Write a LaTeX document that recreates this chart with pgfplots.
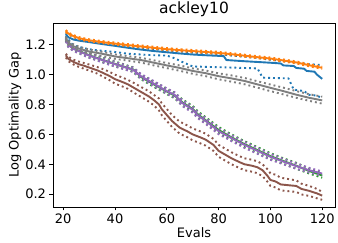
\documentclass[border=0pt]{standalone}
\usepackage{fontspec}
\setmainfont{DejaVu Sans}
\usepackage{pgfplots}
\pgfplotsset{compat=1.18}
\definecolor{tblue}{HTML}{1F77B4}
\definecolor{torange}{HTML}{FF7F0E}
\definecolor{tgreen}{HTML}{2CA02C}
\definecolor{tpurple}{HTML}{9467BD}
\definecolor{tbrown}{HTML}{8C564B}
\definecolor{tgray}{HTML}{7F7F7F}
\begin{document}
\begin{tikzpicture}
\begin{axis}[name=ax, scale only axis, width=282pt, height=184pt,
  xmin=16.05, xmax=124.95, ymin=0.114, ymax=1.346,
  xtick={20,40,...,120}, ytick={0.2,0.4,0.6,0.8,1.0,1.2},
  tick align=outside, tick pos=left, major tick length=3.5pt,
  tick style={black, line width=0.8pt},
  axis line style={line width=0.8pt},
  /pgf/number format/assume math mode=true,
  yticklabel style={/pgf/number format/fixed, /pgf/number format/precision=1, /pgf/number format/fixed zerofill},
  ticklabel style={font=\fontsize{13}{15}\selectfont},
  label style={font=\fontsize{13}{15}\selectfont},
  title style={font=\fontsize{15.5}{17}\selectfont, yshift=-3pt},
  title=ackley10, xlabel=Evals, ylabel=Log Optimality Gap,
  xlabel style={yshift=3pt}, ylabel style={yshift=-3pt},
  every axis plot/.append style={line width=1.9pt, line join=round},
  dot/.style={line width=1.9pt, dash pattern=on 1.9pt off 3pt, line cap=butt},
]
% blue
\addplot[tblue] coordinates {(21,1.272)(22,1.25)(24,1.235)(26,1.228)(30,1.218)(35,1.205)(40,1.193)(45,1.180)(50,1.168)(55,1.158)(60,1.150)(65,1.142)(70,1.135)(75,1.130)(80,1.126)(82,1.124)(83,1.098)(90,1.090)(95,1.085)(100,1.080)(104,1.075)(105,1.062)(109,1.058)(110,1.045)(113,1.040)(114,1.025)(117,1.020)(118,1.000)(120,0.972)};
\addplot[tblue,dot] coordinates {(21,1.28)(25,1.245)(30,1.228)(40,1.202)(50,1.180)(60,1.162)(70,1.148)(80,1.137)(85,1.128)(90,1.120)(95,1.112)(100,1.100)(105,1.090)(110,1.080)(115,1.070)(120,1.065)};
\addplot[tblue,dot] coordinates {(21,1.262)(23,1.21)(25,1.19)(30,1.17)(35,1.16)(40,1.152)(45,1.14)(50,1.135)(55,1.13)(60,1.128)(63,1.11)(66,1.085)(70,1.055)(80,1.05)(90,1.045)(95,1.042)(97,0.98)(107,0.975)(109,0.90)(113,0.89)(115,0.865)(118,0.86)(120,0.842)};
% orange
\addplot[torange] coordinates {(21,1.292)(22,1.275)(24,1.258)(26,1.245)(28,1.237)(30,1.230)(35,1.218)(40,1.208)(45,1.198)(50,1.189)(55,1.180)(60,1.171)(65,1.164)(70,1.158)(75,1.152)(80,1.146)(85,1.137)(90,1.127)(95,1.117)(100,1.108)(105,1.095)(110,1.082)(115,1.063)(120,1.046)};
\addplot[torange,dot] coordinates {(21,1.299)(22,1.282)(24,1.265)(26,1.252)(28,1.244)(30,1.237)(35,1.225)(40,1.215)(45,1.205)(50,1.196)(55,1.187)(60,1.178)(65,1.171)(70,1.165)(75,1.159)(80,1.153)(85,1.144)(90,1.134)(95,1.124)(100,1.115)(105,1.102)(110,1.089)(115,1.070)(120,1.053)};
\addplot[torange,dot] coordinates {(21,1.285)(22,1.268)(24,1.251)(26,1.238)(28,1.230)(30,1.223)(35,1.211)(40,1.201)(45,1.191)(50,1.182)(55,1.173)(60,1.164)(65,1.157)(70,1.151)(75,1.145)(80,1.139)(85,1.130)(90,1.120)(95,1.110)(100,1.101)(105,1.088)(110,1.075)(115,1.056)(120,1.039)};
% green
\addplot[tgreen] coordinates {(21,1.238)(22,1.2)(24,1.175)(26,1.16)(30,1.13)(35,1.10)(40,1.072)(45,1.045)(47,1.035)(50,0.985)(55,0.935)(60,0.887)(63,0.86)(66,0.815)(70,0.77)(72,0.735)(75,0.695)(80,0.63)(85,0.58)(90,0.535)(95,0.495)(100,0.455)(105,0.422)(110,0.39)(115,0.355)(120,0.325)};
\addplot[tgreen,dot] coordinates {(21,1.25)(22,1.215)(24,1.19)(26,1.175)(30,1.145)(35,1.115)(40,1.088)(45,1.06)(47,1.05)(50,1.0)(55,0.952)(60,0.905)(63,0.878)(66,0.835)(70,0.79)(72,0.755)(75,0.715)(80,0.65)(85,0.60)(90,0.555)(95,0.515)(100,0.475)(105,0.44)(110,0.41)(115,0.37)(120,0.34)};
\addplot[tgreen,dot] coordinates {(21,1.226)(22,1.185)(24,1.16)(26,1.145)(30,1.115)(35,1.085)(40,1.056)(45,1.03)(47,1.02)(50,0.97)(55,0.918)(60,0.87)(63,0.842)(66,0.795)(70,0.75)(72,0.715)(75,0.675)(80,0.61)(85,0.56)(90,0.515)(95,0.475)(100,0.435)(105,0.404)(110,0.37)(115,0.338)(120,0.31)};
% purple
\addplot[tpurple] coordinates {(21,1.235)(22,1.198)(24,1.172)(26,1.158)(30,1.128)(35,1.098)(40,1.07)(45,1.043)(47,1.033)(50,0.99)(55,0.94)(60,0.89)(63,0.865)(66,0.81)(70,0.765)(72,0.728)(75,0.69)(80,0.622)(85,0.575)(90,0.53)(95,0.49)(100,0.45)(105,0.418)(110,0.388)(115,0.36)(120,0.338)};
\addplot[tpurple,dot] coordinates {(21,1.247)(22,1.212)(24,1.187)(26,1.173)(30,1.143)(35,1.113)(40,1.086)(45,1.058)(47,1.048)(50,1.005)(55,0.957)(60,0.908)(63,0.883)(66,0.83)(70,0.785)(72,0.748)(75,0.71)(80,0.642)(85,0.595)(90,0.55)(95,0.51)(100,0.47)(105,0.436)(110,0.406)(115,0.376)(120,0.352)};
\addplot[tpurple,dot] coordinates {(21,1.223)(22,1.184)(24,1.157)(26,1.143)(30,1.113)(35,1.083)(40,1.054)(45,1.028)(47,1.018)(50,0.975)(55,0.923)(60,0.872)(63,0.847)(66,0.79)(70,0.745)(72,0.708)(75,0.67)(80,0.602)(85,0.555)(90,0.51)(95,0.47)(100,0.43)(105,0.40)(110,0.37)(115,0.344)(120,0.324)};
% brown
\addplot[tbrown] coordinates {(21,1.13)(22,1.105)(24,1.085)(26,1.07)(28,1.06)(30,1.048)(33,1.03)(35,1.015)(38,0.99)(40,0.97)(43,0.95)(45,0.935)(48,0.905)(50,0.885)(53,0.855)(55,0.83)(57,0.80)(58,0.77)(60,0.73)(62,0.69)(65,0.645)(68,0.62)(70,0.60)(73,0.58)(75,0.565)(78,0.53)(80,0.49)(83,0.46)(85,0.44)(88,0.415)(90,0.40)(93,0.39)(95,0.38)(97,0.36)(99,0.32)(100,0.295)(102,0.285)(104,0.265)(108,0.258)(110,0.255)(112,0.235)(115,0.222)(118,0.205)(120,0.19)};
\addplot[tbrown,dot] coordinates {(21,1.14)(22,1.12)(24,1.10)(26,1.088)(28,1.078)(30,1.068)(33,1.052)(35,1.04)(38,1.018)(40,1.0)(43,0.98)(45,0.965)(48,0.938)(50,0.918)(53,0.89)(55,0.865)(57,0.84)(58,0.81)(60,0.77)(62,0.73)(65,0.685)(68,0.66)(70,0.64)(73,0.62)(75,0.605)(78,0.57)(80,0.53)(83,0.50)(85,0.48)(88,0.455)(90,0.44)(93,0.43)(95,0.42)(97,0.40)(99,0.365)(100,0.34)(102,0.33)(104,0.31)(108,0.298)(110,0.292)(112,0.27)(115,0.255)(118,0.235)(120,0.215)};
\addplot[tbrown,dot] coordinates {(21,1.115)(22,1.09)(24,1.068)(26,1.052)(28,1.04)(30,1.028)(33,1.008)(35,0.99)(38,0.962)(40,0.94)(43,0.92)(45,0.905)(48,0.872)(50,0.852)(53,0.82)(55,0.795)(57,0.76)(58,0.73)(60,0.69)(62,0.65)(65,0.605)(68,0.58)(70,0.56)(73,0.54)(75,0.525)(78,0.49)(80,0.45)(83,0.42)(85,0.40)(88,0.375)(90,0.36)(93,0.35)(95,0.34)(97,0.32)(99,0.28)(100,0.255)(102,0.245)(104,0.225)(108,0.218)(110,0.215)(112,0.198)(115,0.188)(118,0.172)(120,0.162)};
% gray
\addplot[tgray] coordinates {(21,1.245)(22,1.215)(24,1.19)(26,1.175)(30,1.155)(35,1.14)(40,1.122)(45,1.11)(50,1.098)(55,1.08)(60,1.062)(65,1.045)(70,1.025)(75,1.01)(80,0.99)(85,0.975)(90,0.958)(95,0.935)(100,0.912)(105,0.89)(110,0.866)(115,0.845)(120,0.828)};
\addplot[tgray,dot] coordinates {(21,1.255)(22,1.227)(24,1.202)(26,1.188)(30,1.168)(35,1.153)(40,1.136)(45,1.124)(50,1.113)(55,1.096)(60,1.078)(65,1.062)(70,1.042)(75,1.028)(80,1.009)(85,0.995)(90,0.978)(95,0.956)(100,0.934)(105,0.913)(110,0.89)(115,0.869)(120,0.853)};
\addplot[tgray,dot] coordinates {(21,1.235)(22,1.2)(24,1.175)(26,1.16)(30,1.14)(35,1.125)(40,1.106)(45,1.094)(50,1.081)(55,1.062)(60,1.044)(65,1.026)(70,1.006)(75,0.99)(80,0.969)(85,0.953)(90,0.936)(95,0.913)(100,0.89)(105,0.868)(110,0.845)(115,0.825)(120,0.806)};
\end{axis}
\pgfresetboundingbox
\path ([shift={(-53pt,-36pt)}]ax.south west) rectangle ([shift={(3pt,23pt)}]ax.north east);
\end{tikzpicture}
\end{document}
